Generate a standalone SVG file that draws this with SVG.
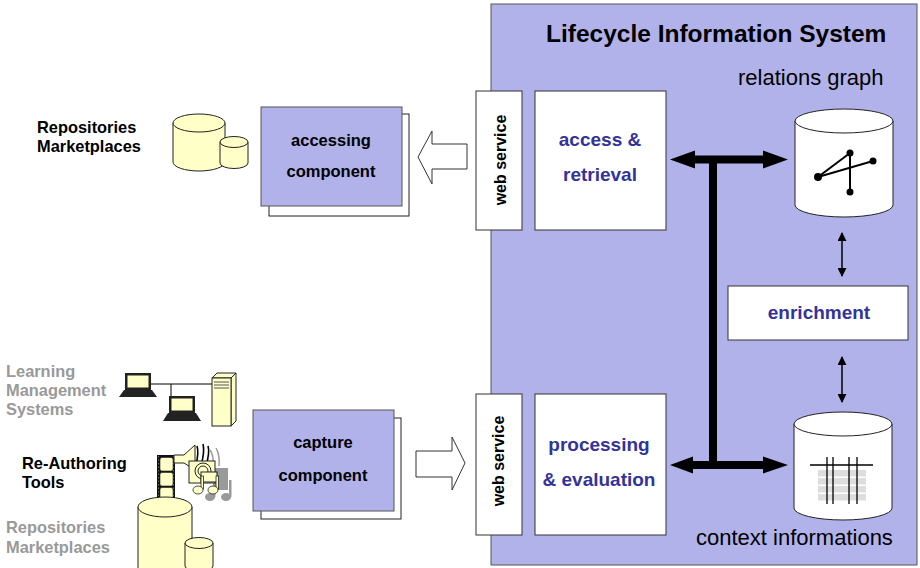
<svg xmlns="http://www.w3.org/2000/svg" width="920" height="568" viewBox="0 0 920 568">
  <style>
    .lbl { font-family: "Liberation Sans", Arial, sans-serif; font-weight: bold; }
    .reg { font-family: "Liberation Sans", Arial, sans-serif; }
    .blue { fill: #333399; font-size: 19px; text-anchor: middle; }
    .comp { fill: #000; font-size: 16.5px; text-anchor: middle; }
    .side { font-size: 16.4px; }
    .gray { fill: #999999; }
    .panel { fill: #b2b2eb; stroke: #555; stroke-width: 1; }
    .white { fill: #fff; stroke: #333; stroke-width: 1; }
    .shadow { fill: #fff; stroke: #222; stroke-width: 1; }
    .yel { fill: #ffffc8; stroke: #222; stroke-width: 1; }
    .db { fill: #fff; stroke: #222; stroke-width: 1; }
    .hollow { fill: #fff; stroke: #333; stroke-width: 1; }
    .thin { stroke: #000; stroke-width: 1.5; fill: none; }
  </style>
  <defs>
    <marker id="tip" viewBox="0 0 10 10" refX="9" refY="5" markerWidth="6" markerHeight="6" orient="auto-start-reverse">
      <path d="M0,0 L10,5 L0,10 Z" fill="#000"/>
    </marker>
  </defs>

  <!-- system panel -->
  <g id="lifecycle-system">
    <rect class="panel" x="491" y="4" width="426" height="561"/>
    <text class="lbl" x="546" y="42" font-size="24.5">Lifecycle Information System</text>
  </g>

  <!-- upper side -->
  <g id="repositories-top">
    <text class="lbl side" x="37" y="133">Repositories</text>
    <text class="lbl side" x="37" y="152">Marketplaces</text>
    <path class="yel" d="M173,123 L173,162 A26,9 0 0 0 225,162 L225,123 Z"/>
    <ellipse class="yel" cx="199" cy="123" rx="26" ry="9"/>
    <path class="yel" d="M220,142 L220,163 A14,5.5 0 0 0 248,163 L248,142 Z"/>
    <ellipse class="yel" cx="234" cy="142" rx="14" ry="5.5"/>
  </g>

  <g id="accessing-component">
    <rect class="shadow" x="269" y="114" width="140" height="102"/>
    <rect class="panel" x="261" y="107" width="141" height="99" stroke="#222"/>
    <text class="lbl comp" x="331" y="146">accessing</text>
    <text class="lbl comp" x="331" y="177">component</text>
  </g>

  <g id="web-service-top">
    <rect class="white" x="476" y="91" width="46" height="139"/>
    <text class="lbl" font-size="16" text-anchor="middle" transform="translate(506,160) rotate(-90)">web service</text>
  </g>

  <g id="access-retrieval">
    <rect class="white" x="535" y="91" width="131" height="139"/>
    <text class="lbl blue" x="600" y="146">access &amp;</text>
    <text class="lbl blue" x="600" y="181">retrieval</text>
  </g>

  <g id="relations-graph">
    <text class="reg" x="738" y="85" font-size="22">relations graph</text>
    <path class="db" d="M795,121 L795,205 A49,12 0 0 0 893,205 L893,121 Z"/>
    <ellipse class="db" cx="844" cy="121" rx="49" ry="12"/>
    <g stroke="#000" stroke-width="2">
      <line x1="818" y1="177" x2="850" y2="153"/>
      <line x1="818" y1="177" x2="873" y2="161"/>
      <line x1="850" y1="153" x2="850" y2="192"/>
    </g>
    <g fill="#000">
      <circle cx="818" cy="177" r="4"/>
      <circle cx="850" cy="153" r="3.5"/>
      <circle cx="873" cy="161" r="3.5"/>
      <circle cx="850" cy="192" r="3.5"/>
    </g>
  </g>

  <g id="enrichment">
    <rect class="white" x="728" y="286" width="180" height="54"/>
    <text class="lbl blue" x="819" y="319">enrichment</text>
  </g>

  <g id="context-informations">
    <path class="db" d="M794,424 L794,508 A49,12 0 0 0 892,508 L892,424 Z"/>
    <ellipse class="db" cx="843" cy="424" rx="49" ry="12"/>
    <g fill="#dddddd">
      <rect x="818" y="470" width="48" height="6.5"/>
      <rect x="818" y="478" width="48" height="6.5"/>
      <rect x="818" y="486" width="48" height="6.5"/>
      <rect x="818" y="494" width="48" height="6.5"/>
    </g>
    <g stroke="#000" stroke-width="1.3">
      <line x1="810" y1="465" x2="873" y2="465"/>
      <line x1="827" y1="457" x2="827" y2="504"/>
      <line x1="833" y1="457" x2="833" y2="504"/>
      <line x1="849" y1="457" x2="849" y2="504"/>
      <line x1="857" y1="457" x2="857" y2="504"/>
    </g>
    <text class="reg" x="696" y="545" font-size="22">context informations</text>
  </g>

  <!-- lower side -->
  <g id="learning-management-systems">
    <text class="lbl side gray" x="6" y="377">Learning</text>
    <text class="lbl side gray" x="6" y="396">Management</text>
    <text class="lbl side gray" x="6" y="415">Systems</text>
    <g stroke="#000" stroke-width="1">
      <line x1="150" y1="384" x2="212" y2="384"/>
      <line x1="171" y1="384" x2="171" y2="397"/>
    </g>
    <rect x="125" y="373" width="26" height="17" fill="#222"/>
    <rect x="127.5" y="375.5" width="21" height="12" fill="#ffffc8"/>
    <path d="M124,390 L152,390 L157,397 L119,397 Z" fill="#222"/>
    <rect x="169" y="396" width="26" height="17" fill="#222"/>
    <rect x="171.5" y="398.5" width="21" height="12" fill="#ffffc8"/>
    <path d="M168,413 L196,413 L201,421 L163,421 Z" fill="#222"/>
    <path class="yel" d="M212,378 L217,373 L236,373 L231,378 Z"/>
    <path class="yel" d="M231,378 L236,373 L236,421 L231,426 Z"/>
    <rect class="yel" x="212" y="378" width="19" height="48"/>
    <g stroke="#555" stroke-width="1">
      <line x1="214" y1="382" x2="229" y2="382"/>
      <line x1="214" y1="385" x2="229" y2="385"/>
      <line x1="214" y1="388" x2="229" y2="388"/>
    </g>
  </g>

  <g id="re-authoring-tools">
    <text class="lbl side" x="22" y="469">Re-Authoring</text>
    <text class="lbl side" x="22" y="488">Tools</text>
    <!-- gray shadow -->
    <g fill="#9a9a9a">
      <rect x="214" y="468" width="14" height="22"/>
      <ellipse cx="210" cy="497" rx="5" ry="4"/>
      <ellipse cx="226" cy="497" rx="5" ry="4"/>
      <rect x="213" y="480" width="2.5" height="17"/>
      <rect x="229" y="480" width="2.5" height="17"/>
    </g>
    <path d="M210,450 Q214,455 213,466 M216,448 Q220,455 219,466" stroke="#999" stroke-width="1.5" fill="none"/>
    <!-- film strip -->
    <rect x="157" y="455" width="18" height="48" fill="#111"/>
    <g stroke="#666" stroke-width="1" stroke-dasharray="1.5,2">
      <line x1="158.5" y1="456" x2="158.5" y2="502"/>
      <line x1="173.5" y1="456" x2="173.5" y2="502"/>
    </g>
    <g fill="#ffffc8" stroke="#222" stroke-width="0.6">
      <rect x="160" y="457.5" width="13" height="13.5" rx="2"/>
      <rect x="160" y="472.5" width="13" height="13.5" rx="2"/>
      <rect x="160" y="487.5" width="13" height="13" rx="2"/>
    </g>
    <!-- speaker -->
    <path class="yel" d="M174,455 L184,455 L195,445 L195,470 L184,463 L174,463 Z"/>
    <path d="M196,465 Q199,452 197,446 M201,465 Q205,452 203,444 M206,466 Q210,452 208,446" stroke="#000" stroke-width="1.6" fill="none"/>
    <!-- projector -->
    <rect class="yel" x="189" y="461" width="26" height="22"/>
    <circle cx="203" cy="471" r="8" fill="#ffffc8" stroke="#222" stroke-width="1"/>
    <circle cx="203" cy="471" r="5" fill="none" stroke="#222" stroke-width="1"/>
    <rect class="yel" x="201" y="472" width="16" height="10"/>
    <!-- notes -->
    <g fill="#ffffc8" stroke="#222" stroke-width="0.8">
      <rect x="201" y="476" width="2.5" height="13"/>
      <rect x="216" y="476" width="2.5" height="13"/>
      <ellipse cx="198" cy="490" rx="5" ry="4"/>
      <ellipse cx="213" cy="490" rx="5" ry="4"/>
    </g>
  </g>

  <g id="repositories-bottom">
    <text class="lbl side gray" x="6" y="533">Repositories</text>
    <text class="lbl side gray" x="6" y="553">Marketplaces</text>
    <path class="yel" d="M138,507 L138,575 L192,575 L192,507 Z"/>
    <ellipse class="yel" cx="165" cy="507" rx="27" ry="10"/>
    <path class="yel" d="M185,543 L185,566 A14,5.5 0 0 0 213,566 L213,543 Z"/>
    <ellipse class="yel" cx="199" cy="543" rx="14" ry="5.5"/>
  </g>

  <g id="capture-component">
    <rect class="shadow" x="261" y="418" width="140" height="101"/>
    <rect class="panel" x="253" y="410" width="141" height="101" stroke="#222"/>
    <text class="lbl comp" x="323" y="448">capture</text>
    <text class="lbl comp" x="323" y="481">component</text>
  </g>

  <g id="web-service-bottom">
    <rect class="white" x="476" y="394" width="46" height="141"/>
    <text class="lbl" font-size="16" text-anchor="middle" transform="translate(504,461) rotate(-90)">web service</text>
  </g>

  <g id="processing-evaluation">
    <rect class="white" x="535" y="394" width="131" height="141"/>
    <text class="lbl blue" x="599" y="451">processing</text>
    <text class="lbl blue" x="599" y="486">&amp; evaluation</text>
  </g>

  <!-- connectors -->
  <g id="connectors">
    <path class="hollow" d="M418,157 L432,131 L432,144 L467,144 L467,169 L432,169 L432,184 Z"/>
    <path class="hollow" d="M465,463 L452,437 L452,451 L416,451 L416,477 L452,477 L452,490 Z"/>
    <path fill="#000" d="M670,159.5 L695,150.5 L695,155.5 L763,155.5 L763,150.5 L788,159.5 L763,168.5 L763,163.5 L695,163.5 L695,168.5 Z"/>
    <rect fill="#000" x="709" y="158" width="8" height="308"/>
    <path fill="#000" d="M670,465 L693,456.5 L693,461 L763,461 L763,456.5 L788,465 L763,473.5 L763,469 L693,469 L693,473.5 Z"/>
    <line class="thin" x1="842" y1="233" x2="842" y2="276" marker-start="url(#tip)" marker-end="url(#tip)"/>
    <line class="thin" x1="842" y1="357" x2="842" y2="402" marker-start="url(#tip)" marker-end="url(#tip)"/>
  </g>
</svg>
